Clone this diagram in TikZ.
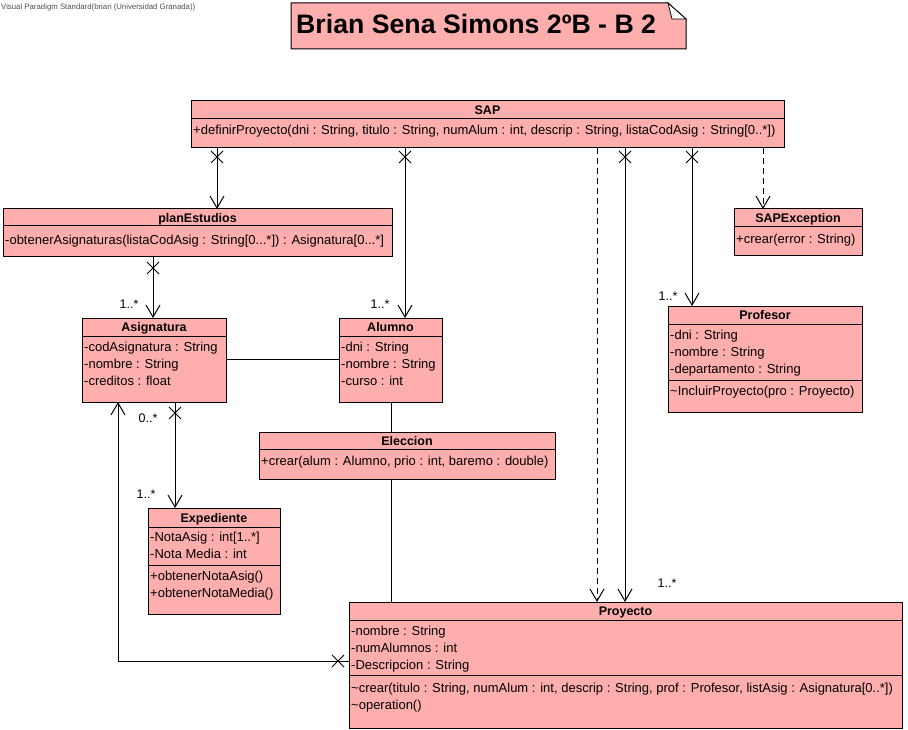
\documentclass[tikz,border=0pt]{standalone}
\usepackage{fontspec}
\setmainfont{Liberation Sans}
\usetikzlibrary{arrows.meta,shapes.misc}
\definecolor{pinkfill}{RGB}{255,174,174}
\definecolor{vpgray}{RGB}{80,80,80}
\begin{document}
\begin{tikzpicture}[x=1pt,y=-1pt,
  cls/.style={draw=black, fill=pinkfill, line width=1pt, inner sep=0pt, outer sep=0pt, anchor=north west},
  hdr/.style={anchor=base, inner sep=0pt, font=\fontsize{12.5}{15}\selectfont\bfseries},
  comp/.style={anchor=north west, inner sep=0pt, align=left, font=\fontsize{13}{17}\selectfont},
  mult/.style={inner sep=0pt, font=\fontsize{12.5}{14}\selectfont},
  assoc/.style={line width=1pt, -{Straight Barb[length=12pt,width=14pt]}},
  dep/.style={assoc, dash pattern=on 6pt off 4pt},
  plain/.style={line width=1pt},
  divl/.style={line width=1pt},
  xm/.style={draw, cross out, line width=1pt, minimum size=11pt, inner sep=0pt}]
\useasboundingbox (0,0) rectangle (908,730);

% watermark
\node[anchor=base west, inner sep=0pt, text=vpgray, font=\fontsize{7.8}{9}\selectfont] (wm) at (1,10) {Visual Paradigm Standard(brian (Universidad Granada))};

% title note
\filldraw[fill=pinkfill, draw=black, line width=1pt] (291,3) -- (668,3) -- (686,19) -- (686,49) -- (291,49) -- cycle;
\filldraw[fill=white, draw=black, line width=0.8pt] (668,3) -- (672,19) -- (686,19) -- cycle;
\node[anchor=base west, inner sep=0pt, font=\fontsize{26.7}{31}\selectfont\bfseries] (title) at (296,34) {Brian Sena Simons 2ºB - B 2};

% SAP
\node[cls, minimum width=593pt, minimum height=47pt] (sap) at (191,101) {};
\draw[divl] ([yshift=-18pt]sap.north west) -- ([yshift=-18pt]sap.north east);
\node[hdr] (sapH) at (487.5,114.5) {SAP};
\node[comp] (sapO) at (193,122) {\strut+definirProyecto(dni : String, titulo : String, numAlum : int, descrip : String, listaCodAsig : String[0..*])};

% planEstudios
\node[cls, minimum width=389pt, minimum height=48pt] (pe) at (3,209) {};
\draw[divl] ([yshift=-17pt]pe.north west) -- ([yshift=-17pt]pe.north east);
\node[hdr] (peH) at (197.5,222.5) {planEstudios};
\node[comp] (peO) at (5,232) {\strut-obtenerAsignaturas(listaCodAsig : String[0...*]) : Asignatura[0...*]};

% SAPException
\node[cls, minimum width=128pt, minimum height=47pt] (sx) at (734,209) {};
\draw[divl] ([yshift=-18pt]sx.north west) -- ([yshift=-18pt]sx.north east);
\node[hdr] (sxH) at (798,222.5) {SAPException};
\node[comp] (sxO) at (736,231) {\strut+crear(error : String)};

% Asignatura
\node[cls, minimum width=144pt, minimum height=84pt] (asig) at (82,318) {};
\draw[divl] ([yshift=-18pt]asig.north west) -- ([yshift=-18pt]asig.north east);
\node[hdr] (asigH) at (154,331.5) {Asignatura};
\node[comp] (asigA) at (84,339) {\strut-codAsignatura : String\\-nombre : String\\-creditos : float};

% Alumno
\node[cls, minimum width=103pt, minimum height=84pt] (alu) at (339,318) {};
\draw[divl] ([yshift=-18pt]alu.north west) -- ([yshift=-18pt]alu.north east);
\node[hdr] (aluH) at (390.5,331.5) {Alumno};
\node[comp] (aluA) at (341,339) {\strut-dni : String\\-nombre : String\\-curso : int};

% Profesor
\node[cls, minimum width=194pt, minimum height=106pt] (prof) at (668,306) {};
\draw[divl] ([yshift=-18pt]prof.north west) -- ([yshift=-18pt]prof.north east);
\draw[divl] ([yshift=-74pt]prof.north west) -- ([yshift=-74pt]prof.north east);
\node[hdr] (profH) at (765,319.5) {Profesor};
\node[comp] (profA) at (670,327) {\strut-dni : String\\-nombre : String\\-departamento : String};
\node[comp] (profO) at (670,383) {\strut\textasciitilde IncluirProyecto(pro : Proyecto)};

% Eleccion
\node[cls, minimum width=296pt, minimum height=47pt] (ele) at (259,432) {};
\draw[divl] ([yshift=-17pt]ele.north west) -- ([yshift=-17pt]ele.north east);
\node[hdr] (eleH) at (407,445.5) {Eleccion};
\node[comp] (eleO) at (261,453) {\strut+crear(alum : Alumno, prio : int, baremo : double)};

% Expediente
\node[cls, minimum width=132pt, minimum height=106pt] (exp) at (148,508) {};
\draw[divl] ([yshift=-19pt]exp.north west) -- ([yshift=-19pt]exp.north east);
\draw[divl] ([yshift=-57pt]exp.north west) -- ([yshift=-57pt]exp.north east);
\node[hdr] (expH) at (214,522.5) {Expediente};
\node[comp] (expA) at (150,529) {\strut-NotaAsig : int[1..*]\\-Nota Media : int};
\node[comp] (expO) at (150,568) {\strut+obtenerNotaAsig()\\+obtenerNotaMedia()};

% Proyecto
\node[cls, minimum width=553pt, minimum height=126pt] (proy) at (349,602) {};
\draw[divl] ([yshift=-18pt]proy.north west) -- ([yshift=-18pt]proy.north east);
\draw[divl] ([yshift=-73pt]proy.north west) -- ([yshift=-73pt]proy.north east);
\node[hdr] (proyH) at (625.5,615.5) {Proyecto};
\node[comp] (proyA) at (351,623) {\strut-nombre : String\\-numAlumnos : int\\-Descripcion : String};
\node[comp] (proyO) at (351,680) {\strut\textasciitilde crear(titulo : String, numAlum : int, descrip : String, prof : Profesor, listAsig : Asignatura[0..*])\\\textasciitilde operation()};

% connectors from SAP
\draw[assoc] ([xshift=26pt]sap.south west) -- ([xshift=214pt]pe.north west);
\node[xm] (x1) at ([xshift=26pt,yshift=-9pt]sap.south west) {};
\draw[assoc] ([xshift=214pt]sap.south west) -- ([xshift=66pt]alu.north west);
\node[xm] (x2) at ([xshift=214pt,yshift=-9pt]sap.south west) {};
\draw[dep] ([xshift=406pt]sap.south west) -- ([xshift=248pt]proy.north west);
\draw[assoc] ([xshift=434pt]sap.south west) -- ([xshift=276pt]proy.north west);
\node[xm] (x3) at ([xshift=434pt,yshift=-9pt]sap.south west) {};
\draw[assoc] ([xshift=501pt]sap.south west) -- ([xshift=24pt]prof.north west);
\node[xm] (x4) at ([xshift=501pt,yshift=-9pt]sap.south west) {};
\draw[dep] ([xshift=572pt]sap.south west) -- ([xshift=29pt]sx.north west);

% planEstudios -> Asignatura
\draw[assoc] ([xshift=150pt]pe.south west) -- ([xshift=71pt]asig.north west);
\node[xm] (x5) at ([xshift=150pt,yshift=-11pt]pe.south west) {};

% Asignatura -- Alumno
\draw[plain] ([yshift=-41pt]asig.north east) -- ([yshift=-41pt]alu.north west);

% Alumno -- Eleccion -- Proyecto
\draw[plain] ([xshift=52pt]alu.south west) -- ([xshift=132pt]ele.north west);
\draw[plain] ([xshift=132pt]ele.south west) -- ([xshift=42pt]proy.north west);

% Asignatura -> Expediente
\draw[assoc] ([xshift=93pt]asig.south west) -- ([xshift=27pt]exp.north west);
\node[xm] (x6) at ([xshift=93pt,yshift=-11pt]asig.south west) {};

% Proyecto -> Asignatura
\draw[assoc] ([yshift=-59pt]proy.north west) -| ([xshift=36pt]asig.south west);
\node[xm] (x7) at ([xshift=-11pt,yshift=-59pt]proy.north west) {};

% multiplicities
\node[mult] (m1) at (129,304) {1..*};
\node[mult] (m2) at (380,304) {1..*};
\node[mult] (m3) at (668,296) {1..*};
\node[mult] (m4) at (148,418) {0..*};
\node[mult] (m5) at (146,494) {1..*};
\node[mult] (m6) at (667,583) {1..*};
\end{tikzpicture}
\end{document}
